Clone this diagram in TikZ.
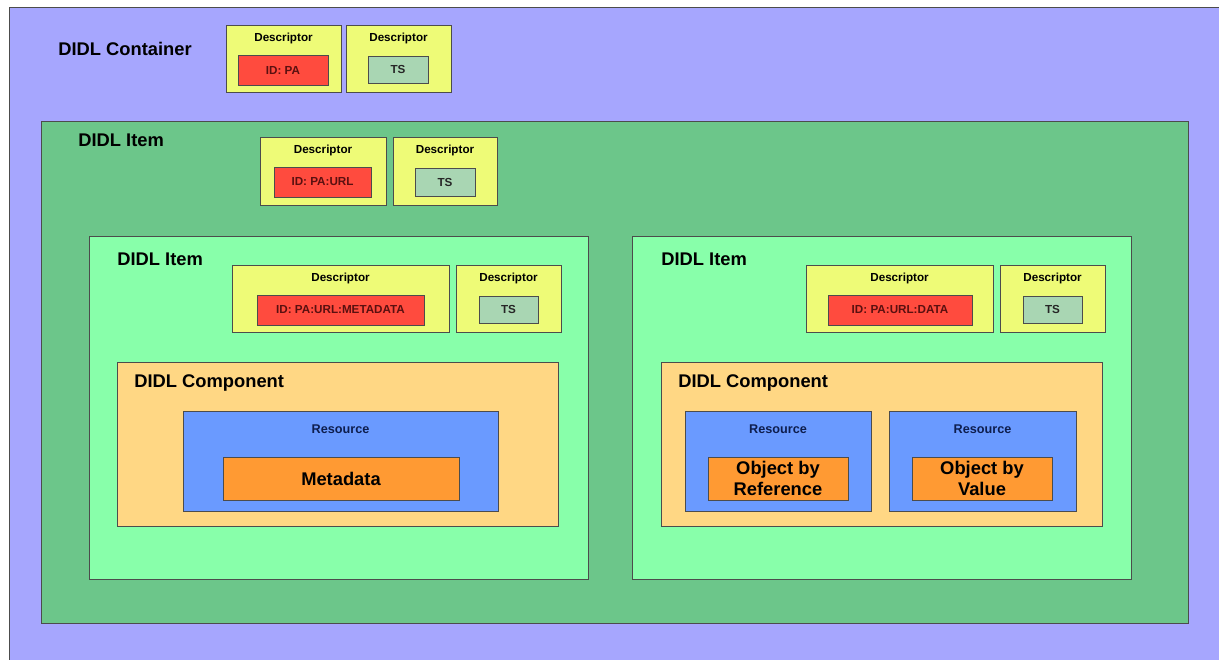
\documentclass[tikz,border=0pt]{standalone}
\usepackage{fontspec}
\setmainfont{Liberation Sans}
\usetikzlibrary{fit,shadows}

\definecolor{contblue}{HTML}{A6A6FE}
\definecolor{itemdark}{HTML}{6CC68A}
\definecolor{itemlight}{HTML}{88FFAA}
\definecolor{descyellow}{HTML}{EEFB77}
\definecolor{idred}{HTML}{FF4B3E}
\definecolor{tsgreen}{HTML}{A9D6B3}
\definecolor{compsand}{HTML}{FFD784}
\definecolor{resblue}{HTML}{6A9AFF}
\definecolor{objorange}{HTML}{FF9A33}
\definecolor{idtext}{HTML}{5A1010}
\definecolor{restext}{HTML}{0E1E4E}

\tikzset{
  panel/.style={draw=black!70, line width=0.5pt, inner sep=0pt,
    drop shadow={shadow xshift=0.8pt, shadow yshift=-0.8pt, opacity=0.45}},
  bigtext/.style={font=\bfseries\fontsize{11}{13}\selectfont, inner sep=0pt, anchor=west},
  desctext/.style={font=\bfseries\fontsize{7}{8}\selectfont, inner sep=0pt},
  restextstyle/.style={font=\bfseries\fontsize{7.6}{9}\selectfont, text=restext, inner sep=0pt},
  descbox/.style={panel, fill=descyellow},
  idbox/.style={panel, fill=idred},
  idtextstyle/.style={desctext, text=idtext},
  tsbox/.style={panel, fill=tsgreen},
  tstextstyle/.style={desctext, text=black!85},
  resbox/.style={panel, fill=resblue},
  objbox/.style={panel, fill=objorange},
  objtext/.style={inner sep=0pt, align=center, font=\bfseries\fontsize{11}{12.6}\selectfont}
}

\begin{document}
\begin{tikzpicture}[x=0.6pt, y=-0.6pt]
\useasboundingbox (0,0) rectangle (1219,659);
\clip (0,0) rectangle (1219,659);

% container
\node[panel, fill=contblue, fit={(9,7) (1240,680)}] (cont) {};
\node[bigtext] (conttitle) at (58,49) {DIDL Container};
\node[descbox, fit={(226,25) (341,92)}] (cdescA) {};
\path (cdescA.north) ++(0,14) node[desctext] (cdescAt) {Descriptor};
\node[idbox, fit={(238,55) (328,85)}] (cid) {};
\node[idtextstyle] (cidt) at (cid.center) {ID: PA};
\node[descbox, fit={(346,25) (451,92)}] (cdescB) {};
\path (cdescB.north) ++(0,14) node[desctext] (cdescBt) {Descriptor};
\node[tsbox, fit={(368,56) (428,83)}] (cts) {};
\node[tstextstyle] (ctst) at (cts.center) {TS};

% outer item
\node[panel, fill=itemdark, fit={(41,121) (1188,623)}] (item) {};
\node[bigtext] (itemtitle) at (78,140) {DIDL Item};
\node[descbox, fit={(260,137) (386,205)}] (idescA) {};
\path (idescA.north) ++(0,14) node[desctext] (idescAt) {Descriptor};
\node[idbox, fit={(274,167) (371,197)}] (iid) {};
\node[idtextstyle] (iidt) at (iid.center) {ID: PA:URL};
\node[descbox, fit={(393,137) (497,205)}] (idescB) {};
\path (idescB.north) ++(0,14) node[desctext] (idescBt) {Descriptor};
\node[tsbox, fit={(415,168) (475,196)}] (its) {};
\node[tstextstyle] (itst) at (its.center) {TS};

% metadata item
\node[panel, fill=itemlight, fit={(89,236) (588,579)}] (mitem) {};
\node[bigtext] (mitemtitle) at (117,259) {DIDL Item};
\node[descbox, fit={(232,265) (449,332)}] (mdescA) {};
\path (mdescA.north) ++(0,14) node[desctext] (mdescAt) {Descriptor};
\node[idbox, fit={(257,295) (424,325)}] (mid) {};
\node[idtextstyle] (midt) at (mid.center) {ID: PA:URL:METADATA};
\node[descbox, fit={(456,265) (561,332)}] (mdescB) {};
\path (mdescB.north) ++(0,14) node[desctext] (mdescBt) {Descriptor};
\node[tsbox, fit={(479,296) (538,323)}] (mts) {};
\node[tstextstyle] (mtst) at (mts.center) {TS};
\node[panel, fill=compsand, fit={(117,362) (558,526)}] (mcomp) {};
\node[bigtext] (mcomptitle) at (134,383) {DIDL Component};
\node[resbox, fit={(183,411) (498,511)}] (mres) {};
\path (mres.north) ++(0,19) node[restextstyle] (mrest) {Resource};
\node[objbox, fit={(223,457) (459,500)}] (mobj) {};
\node[objtext] (mobjt) at (mobj.center) {Metadata};

% data item
\node[panel, fill=itemlight, fit={(632,236) (1131,579)}] (ditem) {};
\node[bigtext] (ditemtitle) at (661,259) {DIDL Item};
\node[descbox, fit={(806,265) (993,332)}] (ddescA) {};
\path (ddescA.north) ++(0,14) node[desctext] (ddescAt) {Descriptor};
\node[idbox, fit={(828,295) (972,325)}] (did) {};
\node[idtextstyle] (didt) at (did.center) {ID: PA:URL:DATA};
\node[descbox, fit={(1000,265) (1105,332)}] (ddescB) {};
\path (ddescB.north) ++(0,14) node[desctext] (ddescBt) {Descriptor};
\node[tsbox, fit={(1023,296) (1082,323)}] (dts) {};
\node[tstextstyle] (dtst) at (dts.center) {TS};
\node[panel, fill=compsand, fit={(661,362) (1102,526)}] (dcomp) {};
\node[bigtext] (dcomptitle) at (678,383) {DIDL Component};
\node[resbox, fit={(685,411) (871,511)}] (dresA) {};
\path (dresA.north) ++(0,19) node[restextstyle] (dresAt) {Resource};
\node[objbox, fit={(708,457) (848,500)}] (dobjA) {};
\node[objtext] (dobjAt) at (dobjA.center) {Object by\\Reference};
\node[resbox, fit={(889,411) (1076,511)}] (dresB) {};
\path (dresB.north) ++(0,19) node[restextstyle] (dresBt) {Resource};
\node[objbox, fit={(912,457) (1052,500)}] (dobjB) {};
\node[objtext] (dobjBt) at (dobjB.center) {Object by\\Value};
\end{tikzpicture}
\end{document}
